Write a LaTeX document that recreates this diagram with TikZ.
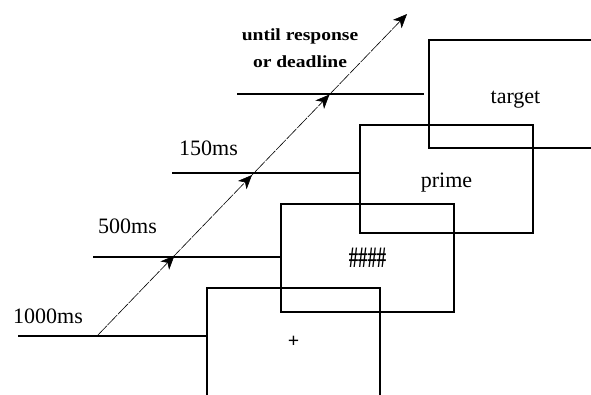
\documentclass[tikz,border=0pt]{standalone}
\usepackage{fontspec}
\setmainfont{Liberation Serif}
\usepackage{graphicx}
\usetikzlibrary{arrows.meta,decorations.markings}
\begin{document}
\begin{tikzpicture}[x=1pt,y=-1pt,
  frame/.style={draw, line width=1.2pt, rectangle, inner sep=0pt,
    minimum width=173pt, minimum height=108pt,
    font=\fontsize{22}{26}\selectfont},
  hline/.style={line width=1.2pt},
  lbl/.style={anchor=base west, inner sep=0pt, font=\fontsize{22}{26}\selectfont},
  ttl/.style={anchor=base, inner sep=0pt, font=\fontsize{17}{20}\selectfont\bfseries},
  flow/.style={line width=0.6pt, dash pattern=on 14pt off 1.2pt,
    postaction={decorate},
    decoration={markings,
      mark=at position 0.25 with {\arrow{Stealth[length=14pt,width=12pt,inset=4pt]}},
      mark=at position 0.5 with {\arrow{Stealth[length=14pt,width=12pt,inset=4pt]}},
      mark=at position 0.75 with {\arrow{Stealth[length=14pt,width=12pt,inset=4pt]}}}}
]
\useasboundingbox (0,0) rectangle (591,394);
\clip (0,0) rectangle (591,394);

% stimulus frames
\node[frame] (fix) at (293.5,342) {\fontsize{20}{20}\selectfont\bfseries +};
\node[frame] (mask) at (367.5,258) {\bfseries\scalebox{0.85}[1.35]{\#\#\#\#}};
\node[frame] (prime) at (446.5,179) {\raisebox{-8pt}[0pt][0pt]{prime}};
\node[frame] (target) at (515.5,94) {\raisebox{-9pt}[0pt][0pt]{target}};

% timeline start points
\coordinate (s1) at (18,336);
\coordinate (s2) at (93,257);
\coordinate (s3) at (172,173);
\coordinate (s4) at (237,94);

\draw[hline] (s1) -- (s1 -| fix.west);
\draw[hline] (s2) -- (s2 -| mask.west);
\draw[hline] (s3) -- (s3 -| prime.west);
\draw[hline, shorten >=4pt] (s4) -- (s4 -| target.west);

% labels
\node[lbl] (l1) at (13,323) {1000ms};
\node[lbl] (l2) at (98,233) {500ms};
\node[lbl] (l3) at (179,155) {150ms};
\node[ttl] (u1) at (300,40) {\scalebox{1.15}[1]{until response}};
\node[ttl] (u2) at (300,67) {\scalebox{1.15}[1]{or deadline}};

% time arrow
\coordinate (a0) at (97,336);
\coordinate (a1) at (407,14);
\draw[flow, -{Stealth[length=14pt,width=12pt,inset=4pt]}] (a0) -- (a1);
\end{tikzpicture}
\end{document}
